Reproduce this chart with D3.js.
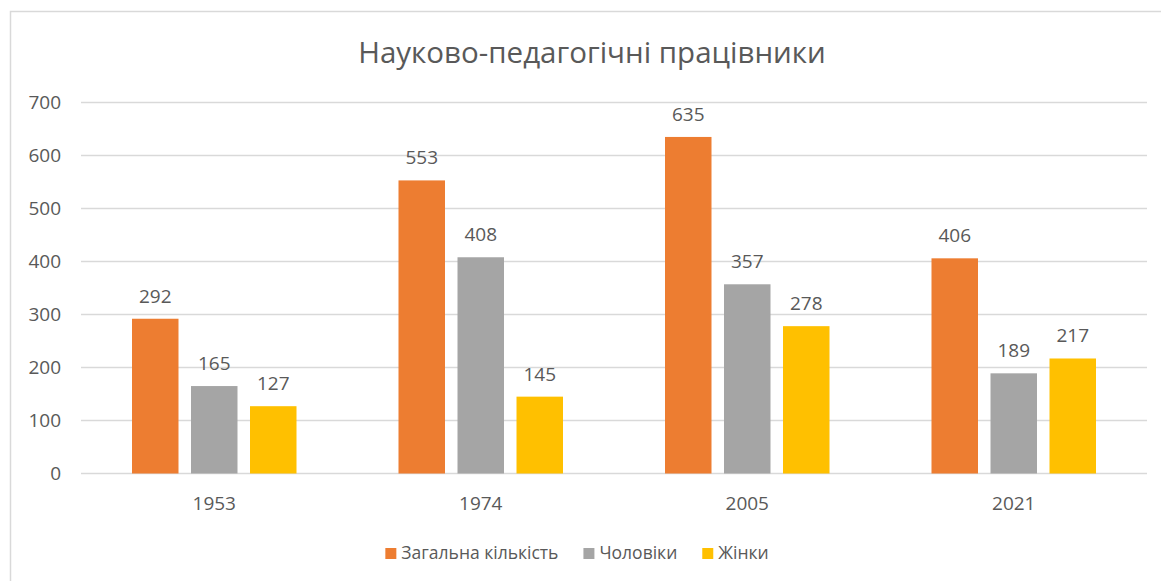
<!DOCTYPE html>
<html lang="uk">
<head>
  <meta charset="UTF-8">
  <title>Науково-педагогічні працівники</title>
  <script src="https://d3js.org/d3.v7.min.js"></script>
  <style>
    body {
      margin: 0;
      background: #fff;
    }
    svg text {
      font-family: "Open Sans", "Noto Sans", sans-serif;
      fill: #595959;
    }
  </style>
</head>
<body>
  <svg width="1161" height="581"></svg>

  <script>
    const years = ["1953", "1974", "2005", "2021"];
    const series = ["Загальна кількість", "Чоловіки", "Жінки"];
    const total = [292, 553, 635, 406];
    const men = [165, 408, 357, 189];
    const women = [127, 145, 278, 217];
    const yTicks = [0, 100, 200, 300, 400, 500, 600, 700];

    const values = [total, men, women];
    const color = d3.scaleOrdinal().domain(series).range(["#ED7D31", "#A5A5A5", "#FFC000"]);

    const svg = d3.select("svg");

    // chart frame (cropped at right/bottom like the picture)
    svg.append("rect")
      .attr("x", 10.5).attr("y", 11.5)
      .attr("width", 1170).attr("height", 600)
      .attr("fill", "none")
      .attr("stroke", "#d9d9d9")
      .attr("stroke-width", 1.5);

    svg.append("text")
      .attr("x", 592).attr("y", 63)
      .attr("text-anchor", "middle")
      .style("font-size", "29.5px")
      .text("Науково-педагогічні працівники");

    const x0 = d3.scaleBand().domain(years).range([81, 1147]);
    const x1 = d3.scaleBand().domain(series).range([51, 215.5]).paddingInner(0.212);
    const y = d3.scaleLinear().domain([0, 700]).range([473.5, 102.5]);

    // gridlines
    svg.append("g")
      .selectAll("line")
      .data(yTicks)
      .join("line")
      .attr("x1", 81).attr("x2", 1147)
      .attr("y1", d => y(d)).attr("y2", d => y(d))
      .attr("stroke", "#d9d9d9")
      .attr("stroke-width", 1.5);

    // y labels
    svg.append("g")
      .selectAll("text")
      .data(yTicks)
      .join("text")
      .attr("x", 61)
      .attr("y", d => y(d))
      .attr("dy", "0.35em")
      .attr("text-anchor", "end")
      .style("font-size", "19px")
      .text(d => d);

    // x labels
    svg.append("g")
      .selectAll("text")
      .data(years)
      .join("text")
      .attr("x", d => x0(d) + x0.bandwidth() / 2)
      .attr("y", 503)
      .attr("dy", "0.35em")
      .attr("text-anchor", "middle")
      .style("font-size", "19px")
      .text(d => d);

    const bars = [];
    years.forEach((yr, i) => {
      series.forEach((s, j) => {
        bars.push({ year: yr, key: s, value: values[j][i] });
      });
    });

    svg.append("g")
      .selectAll("rect")
      .data(bars)
      .join("rect")
      .attr("x", d => x0(d.year) + x1(d.key))
      .attr("y", d => y(d.value))
      .attr("width", x1.bandwidth())
      .attr("height", d => y(0) - y(d.value))
      .attr("fill", d => color(d.key));

    svg.append("g")
      .selectAll("text")
      .data(bars)
      .join("text")
      .attr("x", d => x0(d.year) + x1(d.key) + x1.bandwidth() / 2)
      .attr("y", d => y(d.value) - 16)
      .attr("text-anchor", "middle")
      .style("font-size", "19px")
      .text(d => d.value);

    // legend
    const legend = svg.append("g");
    let lx = 0;
    series.forEach(s => {
      const item = legend.append("g").attr("transform", `translate(${lx},0)`);
      item.append("rect")
        .attr("x", 0).attr("y", 548)
        .attr("width", 11).attr("height", 11)
        .attr("fill", color(s));
      const t = item.append("text")
        .attr("x", 16).attr("y", 559)
        .style("font-size", "17.5px")
        .text(s);
      lx += 16 + t.node().getComputedTextLength() + 25;
    });
    const lw = lx - 25;
    legend.attr("transform", `translate(${577 - lw / 2},0)`);
  </script>
</body>
</html>
